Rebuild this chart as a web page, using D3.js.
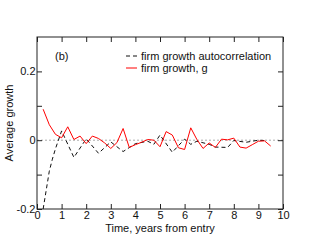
<!DOCTYPE html>
<html><head><meta charset="utf-8">
<script src="https://cdn.jsdelivr.net/npm/d3@7"></script>
<style>
html,body{margin:0;padding:0;background:#fff;}
text{font-family:"Liberation Sans",Arial,Helvetica,sans-serif;}
</style></head>
<body><svg id="c" width="319" height="247"></svg>
<script>
// Data
const growthT = [0.25,0.5,0.75,1.0,1.25,1.5,1.75,2.0,2.25,2.5,2.75,3.0,3.25,3.5,3.75,4.0,4.25,4.5,4.75,5.0,5.25,5.5,5.75,6.0,6.25,6.5,6.75,7.0,7.25,7.5,7.75,8.0,8.25,8.5,8.75,9.0,9.25,9.5];
const growthV = [0.09,0.045,0.017,0.007,0.039,0.002,0.012,-0.01,0.012,0.005,-0.008,-0.024,-0.007,0.034,-0.021,-0.013,-0.006,0.002,0.0,-0.019,0.025,0.015,-0.022,-0.027,0.036,0.002,-0.024,-0.008,-0.021,0.003,0.001,0.006,-0.02,-0.023,-0.013,-0.003,-0.002,-0.017];
const autoT = [0.25,0.375,0.5,0.625,0.75,1.0,1.5,2.0,2.5,3.0,3.5,4.0,4.5,4.75,5.0,5.5,6.0,6.25,6.5,7.0,7.25,7.75,8.0,8.5,9.0,9.25];
const autoV = [-0.2,-0.145,-0.09,-0.055,-0.025,0.027,-0.05,0.004,-0.038,-0.005,-0.033,-0.01,-0.003,-0.012,0.015,-0.035,0.003,-0.012,-0.003,-0.012,-0.02,-0.021,-0.001,-0.006,0.0,-0.001];
const xTicks = [0,1,2,3,4,5,6,7,8,9,10];
const yTicks = [-0.2,-0.1,0,0.1,0.2];
const yLabels = {"-0.2":"-0.2","0":"0","0.2":"0.2"};
const legendLabels = ["firm growth autocorrelation","firm growth, g"];

const svg = d3.select("#c");
const L=37,R=283,T=37,B=209;
const x = d3.scaleLinear().domain([0,10]).range([L,R]);
const y = d3.scaleLinear().domain([-0.2,0.3]).range([B,T]);

// zero line
svg.append("line").attr("x1",L).attr("x2",R).attr("y1",y(0)).attr("y2",y(0))
  .attr("stroke","#aaa").attr("stroke-width",1).attr("stroke-dasharray","2,2");

const fmtY = d => yLabels[String(Math.round(d*10)/10)] || "";

const gB = svg.append("g").attr("transform",`translate(0,${B})`)
  .call(d3.axisBottom(x).tickValues(xTicks).tickSize(-5).tickPadding(2).tickFormat(d=>String(d)));
const gT = svg.append("g").attr("transform",`translate(0,${T})`)
  .call(d3.axisTop(x).tickValues(xTicks).tickSize(-5).tickFormat(""));
const gL = svg.append("g").attr("transform",`translate(${L},0)`)
  .call(d3.axisLeft(y).tickValues(yTicks).tickSize(-5).tickPadding(1.5).tickFormat(fmtY));
const gR = svg.append("g").attr("transform",`translate(${R},0)`)
  .call(d3.axisRight(y).tickValues(yTicks).tickSize(-5).tickFormat(""));
[gB,gT,gL,gR].forEach(g=>{
  g.selectAll(".domain").remove();
  g.selectAll(".tick line").attr("stroke","#222");
  g.selectAll("text").attr("font-size",11).attr("fill","#111")
    .style("font-family",'"Liberation Sans",Arial,sans-serif');
});
svg.append("rect").attr("x",L).attr("y",T).attr("width",R-L).attr("height",B-T)
  .attr("fill","none").attr("stroke","#222").attr("stroke-width",1);

const line = d3.line().x(d=>x(d[0])).y(d=>y(d[1]));
svg.append("path").datum(autoT.map((t,i)=>[t,autoV[i]])).attr("d",line)
  .attr("fill","none").attr("stroke","#111").attr("stroke-width",1).attr("stroke-dasharray","4,3");
svg.append("path").datum(growthT.map((t,i)=>[t,growthV[i]])).attr("d",line)
  .attr("fill","none").attr("stroke","#ff0000").attr("stroke-width",1);

// labels
svg.append("text").attr("x",55).attr("y",60).attr("font-size",11).attr("fill","#111").text("(b)");
const lg = svg.append("g");
legendLabels.forEach((s,i)=>{
  const yy = 56 + i*12;
  lg.append("line").attr("x1",126).attr("x2",137).attr("y1",yy).attr("y2",yy)
    .attr("stroke", i===0?"#111":"#ff0000").attr("stroke-width",1)
    .attr("stroke-dasharray", i===0?"4,3":null);
  lg.append("text").attr("x",141).attr("y",yy+4).attr("font-size",11).attr("fill","#111").text(s);
});
svg.append("text").attr("x",(L+R)/2).attr("y",232).attr("text-anchor","middle")
  .attr("font-size",11).attr("fill","#111").text("Time, years from entry");
svg.append("text").attr("transform",`translate(13,${(T+B)/2}) rotate(-90)`)
  .attr("text-anchor","middle").attr("font-size",11).attr("fill","#111").text("Average growth");
</script></body></html>
